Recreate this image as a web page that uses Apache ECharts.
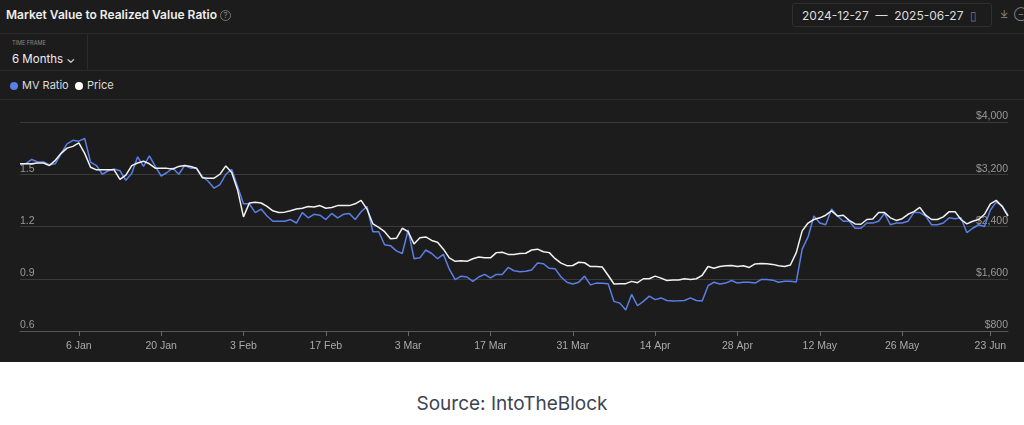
<!DOCTYPE html>
<html>
<head>
<meta charset="utf-8">
<script src="https://cdn.jsdelivr.net/npm/echarts@6/dist/echarts.min.js"></script>
<style>
  body { margin: 0; width: 1024px; height: 425px; background: #fff; font-family: Inter, "Noto Sans", sans-serif; overflow: hidden; }
  #panel { position: absolute; left: 0; top: 0; width: 1024px; height: 362px; background: #1c1c1c; }
  .line { position: absolute; left: 0; width: 1024px; height: 1px; background: #2c2c2c; }
  #title { position: absolute; left: 6px; top: 7px; color: #eee; font-size: 12px; font-weight: 600; }
  #title span { color: #888; font-weight: 400; border: 1px solid #777; border-radius: 50%; display: inline-block; width: 9px; height: 9px; line-height: 9px; text-align: center; font-size: 8px; margin-left: 3px; vertical-align: 1px; }
  #range { position: absolute; left: 792px; top: 3px; width: 200px; height: 24px; border: 1px solid #2e2e2e; border-radius: 3px; color: #ddd; font-size: 12px; line-height: 24px; padding-left: 9px; box-sizing: border-box; white-space: nowrap; }
  #icons { position: absolute; left: 1000px; top: 8px; width: 30px; color: #888; font-size: 10px; white-space: nowrap; }
  #tf { position: absolute; left: 12px; top: 40px; color: #888; font-size: 5.5px; }
  #tfv { position: absolute; left: 12px; top: 52px; color: #eee; font-size: 11.5px; }
  #tfsep { position: absolute; left: 87px; top: 33px; width: 1px; height: 37px; background: #2c2c2c; }
  #legend { position: absolute; left: 10px; top: 78px; color: #ddd; font-size: 11px; }
  .dot { display: inline-block; width: 8px; height: 8px; border-radius: 50%; margin-right: 4px; vertical-align: -1px; }
  #chart { position: absolute; left: 0; top: 100px; width: 1024px; height: 262px; }
  #source { position: absolute; left: 0; top: 392px; width: 1024px; text-align: center; color: #3b4452; font-size: 19px; }
</style>
</head>
<body>
<div id="panel">
  <div id="title">Market Value to Realized Value Ratio<span>?</span></div>
  <div id="range">2024-12-27 &nbsp;— &nbsp;2025-06-27 &nbsp;<span style="color:#777">▯</span></div>
  <div id="icons">⤓&nbsp;&nbsp;⊖</div>
  <div class="line" style="top:33px"></div>
  <div id="tfsep"></div>
  <div id="tf">TIME FRAME</div>
  <div id="tfv">6 Months ⌄</div>
  <div class="line" style="top:70px"></div>
  <div id="legend"><span class="dot" style="background:#5a7fe6"></span>MV Ratio &nbsp;<span class="dot" style="background:#fff"></span>Price</div>
  <div class="line" style="top:99px"></div>
  <div id="chart"></div>
</div>
<div id="source">Source: IntoTheBlock</div>
<script>
const startDate = '2024-12-27';
const dayCount = 169;
const tickIndex = [10, 24, 38, 52, 66, 80, 94, 108, 122, 136, 150, 165];
const tickLabels = ['6 Jan', '20 Jan', '3 Feb', '17 Feb', '3 Mar', '17 Mar', '31 Mar', '14 Apr', '28 Apr', '12 May', '26 May', '23 Jun'];

const mvRatio = [
  1.561, 1.561, 1.585, 1.57, 1.57, 1.555, 1.56, 1.62, 1.675, 1.695, 1.69, 1.705, 1.57, 1.55, 1.50, 1.52, 1.53, 1.52, 1.465, 1.505,
  1.60, 1.545, 1.605, 1.545, 1.49, 1.51, 1.535, 1.50, 1.55, 1.535, 1.535, 1.487, 1.46, 1.42, 1.44, 1.50, 1.528, 1.43, 1.33, 1.33,
  1.28, 1.30, 1.26, 1.23, 1.23, 1.23, 1.24, 1.22, 1.28, 1.25, 1.27, 1.265, 1.24, 1.275, 1.25, 1.27, 1.275, 1.24, 1.285, 1.315,
  1.17, 1.17, 1.095, 1.09, 1.06, 1.045, 1.18, 1.015, 1.02, 1.065, 1.045, 1.015, 1.04, 0.955, 0.895, 0.915, 0.91, 0.885, 0.91, 0.925,
  0.905, 0.925, 0.925, 0.965, 0.946, 0.94, 0.943, 0.95, 0.99, 0.986, 0.96, 0.957, 0.91, 0.88, 0.87, 0.88, 0.915, 0.865, 0.875, 0.874,
  0.872, 0.77, 0.76, 0.72, 0.81, 0.745, 0.77, 0.80, 0.78, 0.79, 0.775, 0.772, 0.773, 0.775, 0.79, 0.775, 0.772, 0.86, 0.88, 0.87,
  0.875, 0.89, 0.875, 0.88, 0.88, 0.875, 0.895, 0.895, 0.892, 0.88, 0.885, 0.885, 0.882, 1.07, 1.14, 1.26, 1.22, 1.21, 1.30, 1.26,
  1.23, 1.23, 1.19, 1.19, 1.22, 1.22, 1.23, 1.275, 1.21, 1.22, 1.22, 1.23, 1.28, 1.28, 1.26, 1.21, 1.21, 1.22, 1.25, 1.245,
  1.25, 1.165, 1.19, 1.21, 1.20, 1.295, 1.34, 1.32, 1.265
];

const price = [
  3360, 3360, 3360, 3373, 3373, 3333, 3413, 3520, 3600, 3627, 3680, 3520, 3307, 3267, 3267, 3267, 3267, 3120, 3187, 3333,
  3373, 3400, 3360, 3293, 3290, 3290, 3280, 3320, 3333, 3320, 3293, 3147, 3140, 3140, 3200, 3328, 3227, 2960, 2547, 2760,
  2773, 2760, 2707, 2640, 2613, 2620, 2640, 2667, 2680, 2707, 2700, 2720, 2680, 2690, 2720, 2720, 2720, 2747, 2800, 2667,
  2440, 2387, 2320, 2213, 2220, 2373, 2320, 2133, 2227, 2240, 2187, 2160, 2053, 1920, 1867, 1875, 1867, 1907, 1933, 1920,
  1920, 2000, 2005, 1973, 1973, 1987, 1990, 2040, 2053, 2013, 2000, 1907, 1840, 1800, 1803, 1853, 1845, 1787, 1787, 1780,
  1653, 1520, 1525, 1525, 1560, 1540, 1600, 1600, 1640, 1610, 1573, 1580, 1580, 1600, 1590, 1600, 1653, 1787, 1760, 1787,
  1800, 1803, 1787, 1800, 1773, 1827, 1833, 1830, 1820, 1800, 1787, 1810, 2000, 2333, 2453, 2507, 2533, 2573, 2640, 2560,
  2573, 2493, 2440, 2435, 2507, 2515, 2613, 2613, 2533, 2493, 2520, 2587, 2627, 2693, 2573, 2507, 2507, 2547, 2627, 2627,
  2507, 2440, 2480, 2507, 2587, 2747, 2800, 2707, 2560
];

const dates = [];
const d0 = new Date(startDate + 'T00:00:00Z');
for (let i = 0; i < dayCount; i++) {
  const d = new Date(d0.getTime() + i * 86400000);
  dates.push(d.toISOString().slice(0, 10));
}

const chart = echarts.init(document.getElementById('chart'));
chart.setOption({
  animation: false,
  grid: { left: 20, right: 16, top: 22, bottom: 31 },
  xAxis: {
    type: 'category',
    data: dates,
    boundaryGap: false,
    axisLine: { lineStyle: { color: '#555' } },
    axisTick: { interval: (i) => tickIndex.includes(i), lineStyle: { color: '#666' }, length: 5 },
    axisLabel: {
      interval: (i) => tickIndex.includes(i),
      formatter: (v, i) => tickLabels[tickIndex.indexOf(i)],
      color: '#aaa', fontSize: 10.5, margin: 10
    },
    splitLine: { show: false }
  },
  yAxis: [
    {
      type: 'value', min: 0.6, max: 1.8, interval: 0.3, position: 'left',
      axisLine: { show: false }, axisTick: { show: false },
      axisLabel: {
        inside: true, showMaxLabel: false, color: '#999', fontSize: 10.5,
        verticalAlign: 'bottom', margin: 0, formatter: (v) => v.toFixed(1)
      },
      splitLine: { lineStyle: { color: '#3a3a3a' } }
    },
    {
      type: 'value', min: 800, max: 4000, interval: 800, position: 'right',
      axisLine: { show: false }, axisTick: { show: false },
      axisLabel: {
        inside: true, color: '#999', fontSize: 10.5, verticalAlign: 'bottom', margin: 0,
        formatter: (v) => '$' + v.toLocaleString('en-US')
      },
      splitLine: { show: false }
    }
  ],
  series: [
    {
      name: 'MV Ratio', type: 'line', data: mvRatio, yAxisIndex: 0,
      showSymbol: false, lineStyle: { color: '#5a7fe6', width: 1.5 }, z: 2
    },
    {
      name: 'Price', type: 'line', data: price, yAxisIndex: 1,
      showSymbol: false, lineStyle: { color: '#f2f2f2', width: 1.5 }, z: 3
    }
  ]
});
</script>
</body>
</html>
